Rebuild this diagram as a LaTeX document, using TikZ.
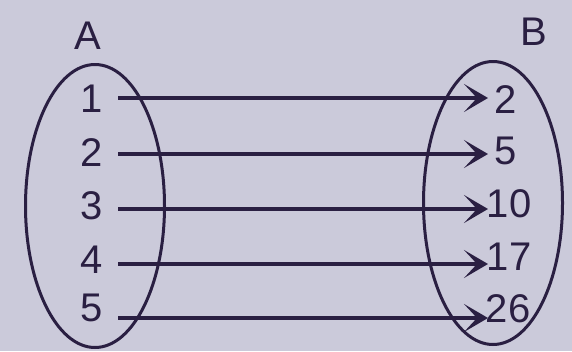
\documentclass[tikz,border=0pt]{standalone}
\usepackage{fontspec}
\setmainfont{Liberation Sans}
\usetikzlibrary{arrows.meta,shapes.geometric}
\definecolor{bg}{HTML}{CBCADA}
\definecolor{ink}{HTML}{2A1F42}
\tikzset{
  setellipse/.style={draw=ink, line width=3pt, ellipse, inner sep=0pt},
  lbl/.style={text=ink, font=\fontsize{40}{40}\selectfont, inner sep=0pt},
  maparrow/.style={draw=ink, line width=3.4pt, -{Stealth[length=24pt,width=28pt,inset=13pt]}}
}
\begin{document}
\begin{tikzpicture}[x=1pt,y=-1pt]
\fill[bg] (0,0) rectangle (572,351);
\useasboundingbox (0,0) rectangle (572,351);
\node[setellipse, minimum width=139pt, minimum height=283pt] (EA) at (95,206) {};
\node[setellipse, minimum width=139pt, minimum height=283pt] (EB) at (493,203) {};
\node[lbl] (A) at (88,36) {A};
\node[lbl] (B) at (534,32) {B};
\foreach \i/\v/\y in {1/1/99,2/2/153,3/3/206,4/4/260,5/5/308}{
  \node[lbl] (a\i) at (92,\y) {\v};
}
\foreach \i/\v/\x/\y in {1/2/506/100,2/5/506/151,3/10/509/204,4/17/509/257,5/26/508/309}{
  \node[lbl] (b\i) at (\x,\y) {\v};
}
\foreach \i/\y in {1/98,2/154,3/209,4/264,5/318}{
  \coordinate (s\i) at (118,\y);
  \coordinate (t\i) at (488,\y);
  \draw[maparrow] (s\i) -- (t\i);
}
\end{tikzpicture}
\end{document}
